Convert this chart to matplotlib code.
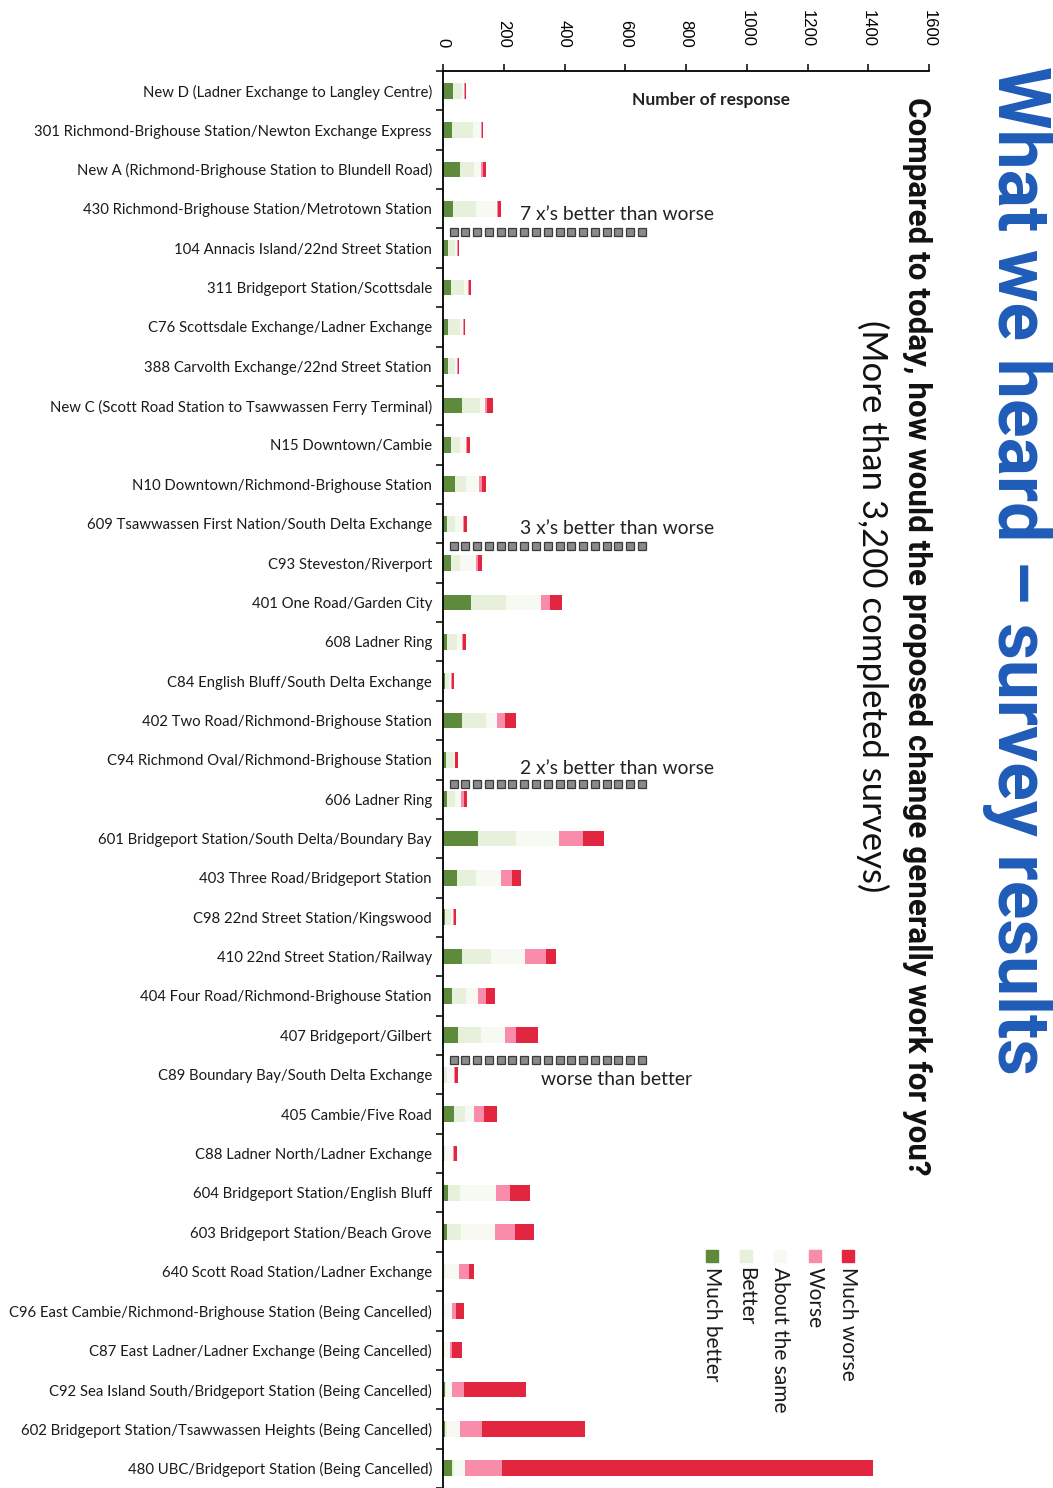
import numpy as np
import matplotlib
matplotlib.use("Agg")
import matplotlib.pyplot as plt
from matplotlib import font_manager
from matplotlib.patches import Rectangle

routes = [
    "New D (Ladner Exchange to Langley Centre)",
    "301 Richmond-Brighouse Station/Newton Exchange Express",
    "New A (Richmond-Brighouse Station to Blundell Road)",
    "430 Richmond-Brighouse Station/Metrotown Station",
    "104 Annacis Island/22nd Street Station",
    "311 Bridgeport Station/Scottsdale",
    "C76 Scottsdale Exchange/Ladner Exchange",
    "388 Carvolth Exchange/22nd Street Station",
    "New C (Scott Road Station to Tsawwassen Ferry Terminal)",
    "N15 Downtown/Cambie",
    "N10 Downtown/Richmond-Brighouse Station",
    "609 Tsawwassen First Nation/South Delta Exchange",
    "C93 Steveston/Riverport",
    "401 One Road/Garden City",
    "608 Ladner Ring",
    "C84 English Bluff/South Delta Exchange",
    "402 Two Road/Richmond-Brighouse Station",
    "C94 Richmond Oval/Richmond-Brighouse Station",
    "606 Ladner Ring",
    "601 Bridgeport Station/South Delta/Boundary Bay",
    "403 Three Road/Bridgeport Station",
    "C98 22nd Street Station/Kingswood",
    "410 22nd Street Station/Railway",
    "404 Four Road/Richmond-Brighouse Station",
    "407 Bridgeport/Gilbert",
    "C89 Boundary Bay/South Delta Exchange",
    "405 Cambie/Five Road",
    "C88 Ladner North/Ladner Exchange",
    "604 Bridgeport Station/English Bluff",
    "603 Bridgeport Station/Beach Grove",
    "640 Scott Road Station/Ladner Exchange",
    "C96 East Cambie/Richmond-Brighouse Station (Being Cancelled)",
    "C87 East Ladner/Ladner Exchange (Being Cancelled)",
    "C92 Sea Island South/Bridgeport Station (Being Cancelled)",
    "602 Bridgeport Station/Tsawwassen Heights (Being Cancelled)",
    "480 UBC/Bridgeport Station (Being Cancelled)",
]

much_better = [33, 30, 56, 33, 16, 25, 16, 16, 63, 27, 40, 13, 25, 92, 13, 6, 63, 10,
               13, 115, 47, 7, 63, 30, 50, 4, 36, 3, 16, 13, 1, 1, 2, 8, 8, 30]
better = [30, 70, 45, 75, 25, 45, 40, 25, 60, 30, 35, 25, 30, 115, 33, 15, 79, 25,
          25, 125, 62, 20, 95, 46, 76, 8, 36, 5, 40, 45, 5, 3, 2, 3, 5, 5]
about_same = [6, 25, 24, 70, 5, 12, 10, 5, 15, 19, 44, 28, 54, 116, 17, 5, 36, 3,
              21, 142, 82, 5, 112, 39, 78, 24, 30, 25, 120, 113, 47, 26, 19, 19, 43, 38]
worse = [2, 2, 6, 3, 2, 2, 2, 2, 8, 4, 8, 4, 7, 30, 4, 2, 25, 3,
         9, 78, 36, 3, 70, 27, 36, 3, 33, 3, 46, 66, 31, 13, 6, 40, 71, 122]
much_worse = [5, 6, 10, 10, 5, 7, 6, 5, 20, 8, 15, 8, 13, 38, 9, 8, 38, 10,
              12, 70, 30, 9, 33, 30, 72, 10, 42, 10, 66, 62, 18, 25, 32, 203, 340, 1220]

series_names = ["Much better", "Better", "About the same", "Worse", "Much worse"]
colors = ["#5e8a3c", "#e6f0da", "#f7faf2", "#f98cab", "#e2263f"]
x_ticks = [0, 200, 400, 600, 800, 1000, 1200, 1400, 1600]

names = {f.name for f in font_manager.fontManager.ttflist}
narrow = "Liberation Sans Narrow" if "Liberation Sans Narrow" in names else "Roboto"

W, H = 1053, 1488
fig = plt.figure(figsize=(W / 100, H / 100), dpi=100)
ax = fig.add_axes([443 / W, 0, 486 / W, (H - 71) / H])

y = np.arange(len(routes))
left = np.zeros(len(routes))
for vals, c, name in zip([much_better, better, about_same, worse, much_worse], colors, series_names):
    ax.barh(y, vals, left=left, height=0.4, color=c, label=name)
    left += np.array(vals)

ax.set_xlim(0, 1600)
ax.set_ylim(len(routes) - 0.5, -0.5)
ax.xaxis.tick_top()
ax.set_xticks(x_ticks)
ax.set_xticklabels([str(t) for t in x_ticks], rotation=270, fontsize=12,
                   family="Liberation Sans")
ax.tick_params(axis="x", direction="out", length=5, width=1.1, pad=12)
ax.set_yticks(y)
ax.set_yticklabels(routes, fontsize=10.7, family="Lato", color="#1a1a1a")
ax.set_yticks(np.arange(len(routes) + 1) - 0.5, minor=True)
ax.tick_params(axis="y", which="major", length=0, pad=8)
ax.tick_params(axis="y", which="minor", length=5, width=1.1)
for s in ["right", "bottom"]:
    ax.spines[s].set_visible(False)
for s in ["left", "top"]:
    ax.spines[s].set_linewidth(1.3)

ax.text(882, 0.24, "Number of response", ha="center", va="center", fontsize=12.5,
        fontweight="bold", family="Lato", color="#222222")

# ratio notes with square-dot separators
notes = [("7 x\u2019s better than worse", 3.15, 3.6),
         ("3 x\u2019s better than worse", 11.12, 11.56),
         ("2 x\u2019s better than worse", 17.22, 17.62),
         ("worse than better", 25.13, 24.63)]
for txt, ty, ly in notes:
    ax.text(573, ty, txt, ha="center", va="center", fontsize=13.9, family="Lato",
            color="#222222")
    ax.plot(np.linspace(35, 655, 17), [ly] * 17, "s", ms=5.5, mfc="#8a8a8a",
            mec="#3a3a3a", mew=0.9, ls="none", clip_on=False)

fig.text(1017 / W, 1 - 66 / H, "What we heard \u2013 survey results", rotation=270,
         ha="center", va="top", fontsize=51.5, fontweight="bold", family=narrow,
         color="#1f5cb8")
fig.text(917 / W, 1 - 97 / H,
         "Compared to today, how would the proposed change generally work for you?",
         rotation=270, ha="center", va="top", fontsize=22.6, fontweight="bold",
         family=narrow, color="#111111")
fig.text(873 / W, 1 - 320 / H, "(More than 3,200 completed surveys)", rotation=270,
         ha="center", va="top", fontsize=25, family="Lato", color="#111111")

# legend drawn rotated like the page
leg_x = [712, 746, 780, 815, 848]
for lx, c, name in zip(leg_x, colors, series_names):
    fig.add_artist(Rectangle(((lx - 6) / W, 1 - 1262 / H), 12 / W, 12 / H,
                             transform=fig.transFigure, color=c))
    fig.text(lx / W, 1 - 1267 / H, name, rotation=270, ha="center", va="top",
             fontsize=15, family="Lato", color="#1a1a1a")

fig.savefig("out.png", dpi=100)
